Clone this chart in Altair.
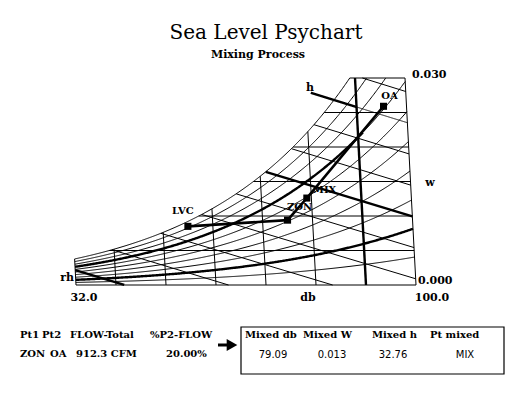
import altair as alt
import numpy as np
import pandas as pd

# ---------------- chart values ----------------
db_grid = [32, 40, 50, 60, 70, 80, 90, 100]
w_grid = [0.000, 0.005, 0.010, 0.015, 0.020, 0.025, 0.030]
rh_grid = [10, 20, 30, 40, 50, 60, 70, 80, 90, 100]
h_grid = [10, 15, 20, 25, 30, 35, 40, 45, 50, 55]
thick_db = [90]
thick_rh = [20, 70]
thick_rh_end_db = {20: 100.0, 70: 91.0}
thick_h = [10, 35]
h_label_line = 50          # enthalpy line carrying the "h" label
h_label_start_db = 81.0    # where that line's leader begins (outside the curve)

point_names = ["LVC", "ZON", "MIX", "OA"]
point_db = [55.0, 75.0, 79.09, 95.4]
point_w = [0.0085, 0.0094, 0.0126, 0.0259]
path_a = ["LVC", "ZON"]
path_b = ["ZON", "MIX", "OA"]

left_headers = ["Pt1", "Pt2", "FLOW-Total", "%P2-FLOW"]
left_values = ["ZON", "OA", "912.3 CFM", "20.00%"]
mix_headers = ["Mixed db", "Mixed W", "Mixed h", "Pt mixed"]
mix_values = ["79.09", "0.013", "32.76", "MIX"]

title_text = "Sea Level Psychart"
subtitle_text = "Mixing Process"

DB_MIN, DB_MAX = 32.0, 100.0
W_MAX = 0.030
P_ATM = 14.696

# ---------------- psychrometrics (ASHRAE) ----------------
def pws(t):
    T = np.asarray(t, dtype=float) + 459.67
    return np.exp(-1.0440397e4 / T - 1.1294650e1 - 2.7022355e-2 * T
                  + 1.2890360e-5 * T ** 2 - 2.4780681e-9 * T ** 3
                  + 6.5459673 * np.log(T))

def w_rh(t, rh):
    pw = rh * pws(t)
    return 0.621945 * pw / (P_ATM - pw)

def w_from_h(h, t):
    return (h - 0.240 * t) / (1061.0 + 0.444 * t)

fine_t = np.linspace(DB_MIN, DB_MAX, 2721)
fine_ws = w_rh(fine_t, 1.0)

def t_sat(w):
    return float(np.interp(w, fine_ws, fine_t))

rows = []
def add(lid, ts, ws, thick):
    for i, (t, w) in enumerate(zip(ts, ws)):
        rows.append({"id": lid, "seq": i, "db": float(t), "W": float(w), "thick": thick})

for t in db_grid:
    top = min(float(w_rh(t, 1.0)), W_MAX)
    add(f"db{t}", [t, t], [0.0, top], 1 if t in thick_db else 0)

for w in w_grid:
    t0 = max(DB_MIN, t_sat(w)) if w > 0 else DB_MIN
    add(f"w{w}", [t0, DB_MAX], [w, w], 0)

for rh in rh_grid:
    ws = w_rh(fine_t, rh / 100.0)
    m = ws <= W_MAX
    ts, ww = fine_t[m], ws[m]
    if rh in thick_rh:
        end = thick_rh_end_db[rh]
        k = ts <= end
        add(f"rh{rh}a", ts[k][::8].tolist() + [ts[k][-1]], ww[k][::8].tolist() + [ww[k][-1]], 1)
        if (~k).sum() > 1:
            add(f"rh{rh}b", ts[~k][::8].tolist() + [ts[~k][-1]], ww[~k][::8].tolist() + [ww[~k][-1]], 0)
        continue
    add(f"rh{rh}", ts[::8].tolist() + [ts[-1]], ww[::8].tolist() + [ww[-1]], 0)

for h in h_grid:
    ws = w_from_h(h, fine_t)
    if h == h_label_line:
        m = (ws >= 0) & (ws <= W_MAX) & (fine_t >= h_label_start_db)
        ts, ww = fine_t[m], ws[m]
        k = ts <= 90.0
        add(f"h{h}a", ts[k], ww[k], 1)
        add(f"h{h}b", ts[~k], ww[~k], 0)
        continue
    m = (ws >= 0) & (ws <= np.minimum(fine_ws, W_MAX))
    if m.sum() < 2:
        continue
    ts, ww = fine_t[m], ws[m]
    add(f"h{h}", [ts[0], ts[-1]], [ww[0], ww[-1]], 1 if h in thick_h else 0)

grid = pd.DataFrame(rows)
pts = pd.DataFrame({"name": point_names, "db": point_db, "W": point_w})
path_rows = []
for pid, path in (("a", path_a), ("b", path_b)):
    for i, n in enumerate(path):
        j = point_names.index(n)
        path_rows.append({"pid": pid, "seq": i, "db": point_db[j], "W": point_w[j]})
paths = pd.DataFrame(path_rows)

# ---------------- scales ----------------
SKEW = 73.3  # dry-bulb lines lean left as W grows
xs = alt.X("xs:Q", scale=alt.Scale(domain=[DB_MIN, DB_MAX], range=[68, 408], nice=False, zero=False), axis=None)
ys = alt.Y("W:Q", scale=alt.Scale(domain=[0, W_MAX], range=[277, 70], nice=False, zero=False), axis=None)
calc = dict(xs=f"datum.db - {SKEW} * datum.W")

thin = alt.Chart(grid).transform_filter("datum.thick == 0").transform_calculate(**calc).mark_line(
    color="black", strokeWidth=1).encode(x=xs, y=ys, detail="id:N", order="seq:Q")
thick = alt.Chart(grid).transform_filter("datum.thick == 1").transform_calculate(**calc).mark_line(
    color="black", strokeWidth=2.4).encode(x=xs, y=ys, detail="id:N", order="seq:Q")
proc = alt.Chart(paths).transform_calculate(**calc).mark_line(
    color="black", strokeWidth=2.6).encode(x=xs, y=ys, detail="pid:N", order="seq:Q")
marks = alt.Chart(pts).transform_calculate(**calc).mark_square(
    color="black", size=50, opacity=1).encode(x=xs, y=ys)

SERIF = "DejaVu Serif"
label_off = {"LVC": (-5, -15, "center"), "ZON": (12, -13, "center"),
             "MIX": (6, -8, "left"), "OA": (6, -10, "center")}
plabels = []
for n in point_names:
    dx, dy, al = label_off[n]
    plabels.append(alt.Chart(pts).transform_filter(f"datum.name == '{n}'").transform_calculate(**calc)
                   .mark_text(font=SERIF, fontWeight="bold", fontSize=10, align=al, baseline="middle",
                              dx=dx, dy=dy, color="black")
                   .encode(x=xs, y=ys, text="name:N"))

one = pd.DataFrame({"k": [0]})
def txt(s, x, y, size=10, weight="bold", align="center", font=SERIF):
    return alt.Chart(one).mark_text(text=s, font=font, fontSize=size, fontWeight=weight,
                                    align=align, baseline="middle", color="black").encode(
        x=alt.value(x), y=alt.value(y))

texts = [
    txt(title_text, 258, 25, size=20, weight="normal"),
    txt(subtitle_text, 250, 47, size=11),
    txt("0.030", 404, 67, size=11, align="left"),
    txt("0.000", 410, 273, size=11, align="left"),
    txt("32.0", 76, 290, size=11),
    txt("db", 300, 290, size=11),
    txt("100.0", 424, 290, size=11),
    txt("w", 422, 175, size=11),
    txt("h", 302, 80, size=11),
    txt("rh", 66, 270, size=11, align="right"),
]
for s, x in zip(left_headers, [12, 34, 62, 142]):
    texts.append(txt(s, x, 327, align="left"))
for s, x in zip(left_values, [12, 42, 68, 158]):
    texts.append(txt(s, x, 346, align="left"))
for s, x in zip(mix_headers, [237, 295, 364, 422]):
    texts.append(txt(s, x, 327, align="left"))
for s, x in zip(mix_values, [265, 324, 385, 457]):
    texts.append(txt(s, x, 347, size=10, weight="normal", font="DejaVu Sans"))

box = alt.Chart(one).mark_rect(fill=None, stroke="black", strokeWidth=1.2).encode(
    x=alt.value(233), x2=alt.value(496), y=alt.value(319), y2=alt.value(366))
shaft = alt.Chart(one).mark_rule(color="black", strokeWidth=3).encode(
    x=alt.value(210), x2=alt.value(222), y=alt.value(337))
head = alt.Chart(one).mark_point(shape="triangle-right", filled=True, color="black", size=150, opacity=1).encode(
    x=alt.value(224), y=alt.value(337))

chart = alt.layer(thin, thick, proc, marks, *plabels, *texts, box, shaft, head).properties(
    width=497, height=382, autosize=alt.AutoSizeParams(type="none"), padding=0,
    background="white"
).configure_view(stroke=None)

chart.save("out.html", embed_options={"renderer": "svg", "actions": False})
